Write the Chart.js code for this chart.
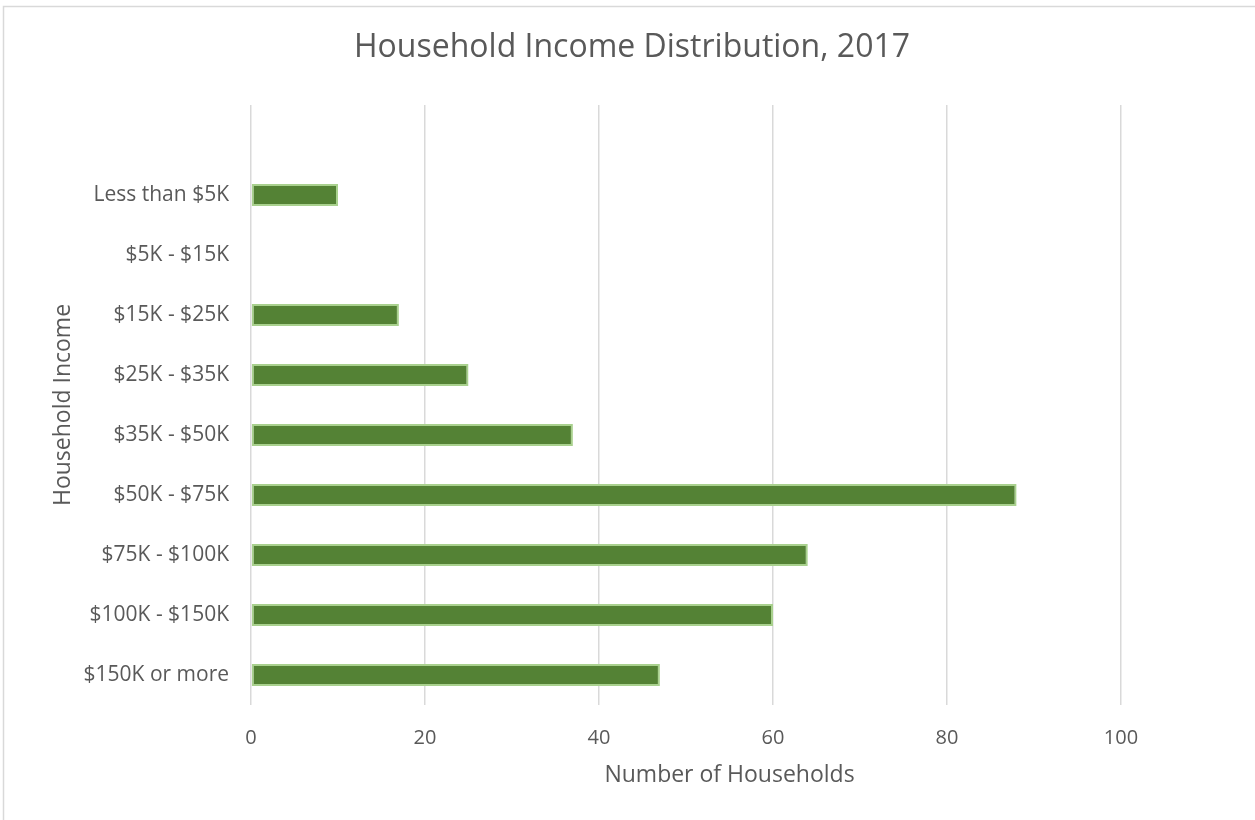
<!DOCTYPE html>
<html>
<head>
<meta charset="utf-8">
<script src="https://cdn.jsdelivr.net/npm/chart.js@4.4.1/dist/chart.umd.min.js"></script>
<style>
html,body{margin:0;padding:0;background:#fff;}
#wrap{width:1255px;height:820px;position:relative;}
</style>
</head>
<body>
<div id="wrap"><canvas id="c" width="1255" height="820"></canvas></div>
<script>
const chartTitle = 'Household Income Distribution, 2017';
const categories = ['Less than $5K', '$5K - $15K', '$15K - $25K', '$25K - $35K', '$35K - $50K', '$50K - $75K', '$75K - $100K', '$100K - $150K', '$150K or more'];
const households = [10, 0, 17, 25, 37, 88, 64, 60, 47];
const xTicks = [0, 20, 40, 60, 80, 100];
const xAxisTitle = 'Number of Households';
const yAxisTitle = 'Household Income';

// Excel leaves one empty slot above the first category
const labels = [''].concat(categories);
const values = [null].concat(households);

const FONT = "'Open Sans', 'DejaVu Sans', sans-serif";
const TXT = '#595959';

const frame = {
  id: 'frame',
  beforeDraw(chart) {
    const ctx = chart.ctx;
    ctx.save();
    ctx.fillStyle = '#fff';
    ctx.fillRect(0, 0, chart.width, chart.height);
    ctx.strokeStyle = '#d9d9d9';
    ctx.lineWidth = 1.5;
    ctx.strokeRect(3.5, 6.5, chart.width + 20, chart.height + 20);
    ctx.restore();
  }
};

new Chart(document.getElementById('c'), {
  type: 'bar',
  data: {
    labels: labels,
    datasets: [{
      data: values,
      yAxisID: 'y',
      xAxisID: 'x',
      backgroundColor: '#548235',
      borderColor: '#A9D18E',
      borderWidth: 2,
      borderSkipped: false,
      categoryPercentage: 1,
      barPercentage: 0.37
    }]
  },
  options: {
    indexAxis: 'y',
    responsive: false,
    animation: false,
    devicePixelRatio: 1,
    layout: { padding: { top: 0, right: 0, bottom: 0, left: 9 } },
    plugins: {
      legend: { display: false },
      tooltip: { enabled: false },
      title: {
        display: true,
        text: chartTitle,
        color: TXT,
        font: { family: FONT, size: 32, weight: 'normal' },
        padding: { top: 29, bottom: 37.6 }
      }
    },
    scales: {
      x: {
        min: 0,
        max: 110,
        afterBuildTicks(scale) {
          scale.ticks = xTicks.map(v => ({ value: v }));
        },
        grid: { color: '#d9d9d9', lineWidth: 1.5, drawTicks: false },
        border: { display: false },
        ticks: { color: TXT, font: { family: FONT, size: 20 }, padding: 21 },
        title: {
          display: true, text: xAxisTitle, color: TXT,
          font: { family: FONT, size: 23 }, padding: { top: 0, bottom: 31 }
        },
        afterFit(scale) { scale.height = 115; }
      },
      y: {
        grid: { display: false, drawTicks: false },
        border: { display: false },
        ticks: { color: TXT, font: { family: FONT, size: 21 }, padding: 22, autoSkip: false },
        title: {
          display: true, text: yAxisTitle, color: TXT,
          font: { family: FONT, size: 23 }, padding: { top: 41, bottom: 0 }
        },
        afterFit(scale) { scale.width = 242; }
      },
      yRight: {
        type: 'linear',
        axis: 'y',
        position: 'right',
        display: true,
        grid: { display: false, drawTicks: false },
        border: { display: false },
        ticks: { display: false },
        afterFit(scale) { scale.width = 47; }
      }
    }
  },
  plugins: [frame]
});
</script>
</body>
</html>
